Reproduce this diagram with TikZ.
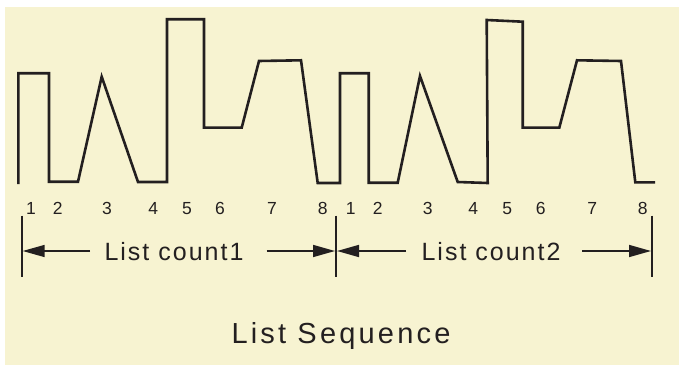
\documentclass[tikz,border=0pt]{standalone}
\usepackage{fontspec}
\setmainfont{Liberation Sans}
\newfontfamily\spanfont[LetterSpace=8]{Liberation Sans}
\newfontfamily\titlefont[LetterSpace=11]{Liberation Sans}
\usetikzlibrary{arrows.meta}
\definecolor{paperFill}{HTML}{F7F3D1}
\definecolor{inkDraw}{HTML}{231F20}
\tikzset{
  x=1pt, y=-1pt,
  wave/.style ={draw=inkDraw, line width=2.6pt, line join=miter},
  idx/.style  ={text=inkDraw, inner sep=0pt, anchor=base, font=\fontsize{17.5}{20}\selectfont},
  span/.style ={text=inkDraw, inner sep=0pt, anchor=base, font=\spanfont\fontsize{25}{30}\selectfont},
  title/.style={text=inkDraw, inner sep=0pt, anchor=base, font=\titlefont\fontsize{29}{34}\selectfont},
  edge/.style ={draw=inkDraw, line width=2pt},
  arr/.style  ={-{Triangle[length=22pt,width=12pt]}, draw=inkDraw, line width=1.6pt},
}
\begin{document}
\begin{tikzpicture}
  \useasboundingbox (0,0) rectangle (679,366);
  \fill[paperFill] (5,7) rectangle (679,365);

  % waveform, two list periods
  \draw[wave] (18.3,184) -- (18.3,73.3) -- (49,73.3) -- (49,181.7) -- (78,181.7) -- (101.7,76.7)
    -- (138,182) -- (167,182) -- (167,19.3) -- (204,19.3) -- (204,127.7) -- (241.7,127.7)
    -- (259,61) -- (301,60.3) -- (317.7,183) -- (340,183)
    -- (340,73.3) -- (368.7,73.3) -- (368.7,182.7) -- (397.7,182.7) -- (420,76)
    -- (457.7,182) -- (487.7,183) -- (486.7,20) -- (522.7,21.7) -- (522.7,127.7) -- (559.3,127.7)
    -- (577,60.3) -- (621,61) -- (635.3,182.3) -- (655,182.3);

  % step numbers
  \node[idx] (p1) at (31,214.3)    {1};
  \node[idx] (p2) at (57.7,214.3)  {2};
  \node[idx] (p3) at (107,214.3)   {3};
  \node[idx] (p4) at (153.3,214.3) {4};
  \node[idx] (p5) at (187,214.3)   {5};
  \node[idx] (p6) at (220,214.3)   {6};
  \node[idx] (p7) at (272,214.3)   {7};
  \node[idx] (p8) at (322.7,214.3) {8};
  \node[idx] (q1) at (350.7,214.3) {1};
  \node[idx] (q2) at (377.7,214.3) {2};
  \node[idx] (q3) at (427.7,214.3) {3};
  \node[idx] (q4) at (473.3,214.3) {4};
  \node[idx] (q5) at (507.3,214.3) {5};
  \node[idx] (q6) at (540.7,214.3) {6};
  \node[idx] (q7) at (592.3,214.3) {7};
  \node[idx] (q8) at (642.7,214.3) {8};

  % limit bars
  \coordinate (b0t) at (21.7,215.5); \coordinate (b0b) at (21.7,277);
  \coordinate (b1t) at (336,215.5);  \coordinate (b1b) at (336,277);
  \coordinate (b2t) at (652,215.5);  \coordinate (b2b) at (652,277);
  \draw[edge] (b0t) -- (b0b);
  \draw[edge] (b1t) -- (b1b);
  \draw[edge] (b2t) -- (b2b);

  % list counts
  \node[span] (lc1) at (174,260.3) {List count1};
  \node[span] (lc2) at (491,260.3) {List count2};
  \coordinate (a1l) at (90,251);    \coordinate (e0)  at (22.7,251);
  \coordinate (a1r) at (266.7,251); \coordinate (e1l) at (335,251);
  \coordinate (a2l) at (406,251);   \coordinate (e1r) at (337,251);
  \coordinate (a2r) at (582.3,251); \coordinate (e2)  at (651,251);
  \draw[arr] (a1l) -- (e0);
  \draw[arr] (a1r) -- (e1l);
  \draw[arr] (a2l) -- (e1r);
  \draw[arr] (a2r) -- (e2);

  \node[title] (seq) at (341,343.3) {List Sequence};
\end{tikzpicture}
\end{document}
